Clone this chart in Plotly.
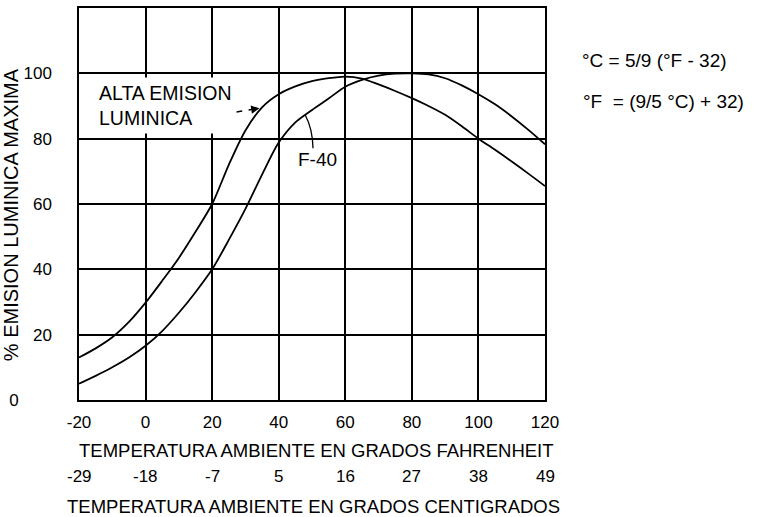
import plotly.graph_objects as go

# ---- data ----
temp_f = [-20, -15, -10, -5, 0, 5, 10, 15, 20, 25, 30, 35, 40, 45, 50, 55, 60,
          65, 70, 75, 80, 85, 90, 95, 100, 105, 110, 115, 120]
alta_emision = [13, 15.8, 19.2, 23.9, 29.8, 36.5, 43.5, 51.5, 60, 72, 82.5, 89.6, 93.6, 96,
                97.6, 98.5, 99, 98.4, 96.6, 94.6, 92.4, 90, 87.3, 83.8, 80, 76.6,
                73, 69.3, 65.5]
f40 = [5, 7.4, 10, 13, 16.6, 21.1, 26.7, 33, 40, 49, 58.5, 69, 78.8, 85, 88.8, 92.3,
       95.9, 98, 99.3, 99.9, 100, 99.7, 98.5, 96.3, 93.6, 90.5, 86.8, 82.7, 78.3]

x_ticks = [-20, 0, 20, 40, 60, 80, 100, 120]
x_ticktext = ["-20", "0", "20", "40", "60", "80", "100", "120"]
celsius_labels = ["-29", "-18", "-7", "5", "16", "27", "38", "49"]
y_ticks = [0, 20, 40, 60, 80, 100]
y_ticktext = ["0" + "\u00a0" * 7, "20", "40", "60", "80", "100"]

FONT = "Liberation Sans, Arial, sans-serif"

fig = go.Figure()
fig.add_trace(go.Scatter(x=temp_f, y=alta_emision, mode="lines",
                         line=dict(color="black", width=1.8, shape="spline", smoothing=0.8),
                         showlegend=False))
fig.add_trace(go.Scatter(x=temp_f, y=f40, mode="lines",
                         line=dict(color="black", width=1.8, shape="spline", smoothing=0.8),
                         showlegend=False))

annotations = []
annotations.append(dict(x=-15.6, y=90.3, xref="x", yref="y", xanchor="left", yanchor="middle",
                        text="ALTA EMISION<br>LUMINICA", align="left", showarrow=False,
                        bgcolor="white", borderpad=4,
                        font=dict(family=FONT, size=19.5, color="black")))
annotations.append(dict(x=34.2, y=89.3, ax=30.5, ay=88.7, xref="x", yref="y",
                        axref="x", ayref="y", text="", showarrow=True,
                        arrowhead=2, arrowsize=1.1, arrowwidth=1.5, arrowcolor="black",
                        standoff=0, startstandoff=0))
annotations.append(dict(x=51.6, y=73.7, xref="x", yref="y", text="F-40", showarrow=False,
                        font=dict(family=FONT, size=19, color="black")))
annotations.append(dict(x=1.075, y=0.8655, xref="paper", yref="paper", xanchor="left",
                        yanchor="middle", text="°C = 5/9 (°F - 32)", showarrow=False,
                        font=dict(family=FONT, size=19, color="black")))
annotations.append(dict(x=1.078, y=0.761, xref="paper", yref="paper", xanchor="left",
                        yanchor="middle", text="°F \u00a0= (9/5 °C) + 32)", showarrow=False,
                        font=dict(family=FONT, size=19, color="black")))
annotations.append(dict(x=0.5086, y=-0.1294, xref="paper", yref="paper", xanchor="center",
                        yanchor="middle", text="TEMPERATURA AMBIENTE EN GRADOS FAHRENHEIT",
                        showarrow=False, font=dict(family=FONT, size=18.5, color="black")))
annotations.append(dict(x=0.504, y=-0.2716, xref="paper", yref="paper", xanchor="center",
                        yanchor="middle", text="TEMPERATURA AMBIENTE EN GRADOS CENTIGRADOS",
                        showarrow=False, font=dict(family=FONT, size=18.5, color="black")))
annotations.append(dict(x=-0.1455, y=0.472, xref="paper", yref="paper", xanchor="center",
                        yanchor="middle", text="% EMISION LUMINICA MAXIMA", textangle=-90,
                        showarrow=False, font=dict(family=FONT, size=20, color="black")))
for xv, lab in zip(x_ticks, celsius_labels):
    annotations.append(dict(x=xv, y=-0.1954, xref="x", yref="paper", xanchor="center",
                            yanchor="middle", text=lab, showarrow=False,
                            font=dict(family=FONT, size=17, color="black")))

shapes = [
    dict(type="line", xref="x", yref="y", x0=15.7, y0=86.2, x1=31.0, y1=88.8,
         line=dict(color="black", width=1.5, dash="dash")),
    dict(type="path", xref="x", yref="y", path="M 47.9,87.4 Q 50.2,83 50.3,77.1",
         line=dict(color="black", width=1.3)),
]

fig.update_layout(
    width=763, height=517,
    margin=dict(l=79, r=218, t=6, b=117),
    plot_bgcolor="white", paper_bgcolor="white",
    font=dict(family=FONT, color="black"),
    annotations=annotations, shapes=shapes,
    xaxis=dict(range=[-20, 120], tickvals=x_ticks, ticktext=x_ticktext,
               showgrid=True, gridcolor="black", gridwidth=1.5,
               showline=True, linecolor="black", linewidth=1.5, mirror=True,
               zeroline=False, ticks="", tickfont=dict(size=17, family=FONT, color="black"),
               ticklabelstandoff=6),
    yaxis=dict(range=[0, 120], tickvals=y_ticks, ticktext=y_ticktext,
               showgrid=True, gridcolor="black", gridwidth=1.5,
               showline=True, linecolor="black", linewidth=1.5, mirror=True,
               zeroline=False, ticks="", tickfont=dict(size=17, family=FONT, color="black"),
               ticklabelstandoff=22),
)

fig.write_html("out.html", config={"displayModeBar": False},
               post_script="document.body.style.margin='0';document.body.style.overflow='hidden';")
